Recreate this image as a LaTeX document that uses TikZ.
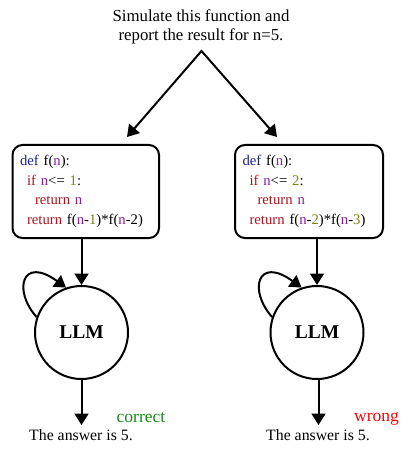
\documentclass[tikz,border=0pt]{standalone}
\usepackage{fontspec}
\setmainfont{Liberation Serif}
\usetikzlibrary{arrows.meta,calc}
\definecolor{kwblue}{RGB}{30,30,150}
\definecolor{varpurple}{RGB}{140,30,160}
\definecolor{kwred}{RGB}{175,20,30}
\definecolor{numol}{RGB}{130,130,20}
\definecolor{corrgreen}{RGB}{20,140,20}
\definecolor{wrongred}{RGB}{255,0,0}
\newcommand{\cv}[1]{\textcolor{varpurple}{#1}}
\newcommand{\ck}[1]{\textcolor{kwred}{#1}}
\newcommand{\cn}[1]{\textcolor{numol}{#1}}
\begin{document}
\begin{tikzpicture}[x=1pt,y=-1pt,
  arr/.style={line width=2pt,-{Triangle[length=11.5pt,width=14pt]}},
  codebox/.style={draw, rounded corners=10pt, line width=2pt, minimum height=93pt,
     inner xsep=7.5pt, inner ysep=0pt, align=left, font=\fontsize{14.7}{19.5}\selectfont},
  llmnode/.style={circle, draw, line width=2pt, minimum size=93pt, inner sep=0pt,
     font=\bfseries\fontsize{19.5}{22}\selectfont},
  ans/.style={anchor=base, font=\fontsize{15.8}{18}\selectfont},
  verdict/.style={anchor=base, font=\fontsize{17.5}{20}\selectfont}]
\useasboundingbox (0,0) rectangle (401,449);

\node[anchor=north, inner sep=0pt, align=center, font=\fontsize{16.8}{19.5}\selectfont] (title) at (201,9.2)
  {Simulate this function and\\report the result for n=5.};

\coordinate (apex) at (201.5,51);
\coordinate (tipL) at (127,137);
\coordinate (tipR) at (277,137);
\draw[line width=2pt,{Triangle[length=11.5pt,width=14pt]}-{Triangle[length=11.5pt,width=14pt]}] (tipL) -- (apex) -- (tipR);

\node[codebox, minimum width=146.5pt, text width=131.5pt] (box1) at (85.75,191.5)
  {\textcolor{kwblue}{def} f(\cv{n}):\\
   \hspace*{7pt}\ck{if} \cv{n}<= \cn{1}:\\
   \hspace*{15pt}\ck{return} \cv{n}\\
   \hspace*{7pt}\ck{return} f(\cv{n}-\cn{1})*f(\cv{n}-2)};

\node[codebox, minimum width=148pt, text width=133pt] (box2) at (309,191.5)
  {\textcolor{kwblue}{def} f(\cv{n}):\\
   \hspace*{7pt}\ck{if} \cv{n}<= \cn{2}:\\
   \hspace*{15pt}\ck{return} \cv{n}\\
   \hspace*{7pt}\ck{return} f(\cv{n}-\cn{2})*f(\cv{n}-\cn{3})};

\node[llmnode] (llm1) at (81.5,332.5) {LLM};
\node[llmnode] (llm2) at (317,332.5) {LLM};

\draw[arr] (llm1.north |- box1.south) -- (llm1.north);
\draw[arr] (llm2.north |- box2.south) -- (llm2.north);

\draw[arr] (llm1.161) .. controls +(-24,-27) and +(-44,-32) .. (llm1.109);
\draw[arr] (llm2.161) .. controls +(-24,-27) and +(-44,-32) .. (llm2.109);

\coordinate (o1) at (81.5,425);
\coordinate (o2) at (318.5,425);
\draw[arr] (llm1.south) -- (o1);
\draw[arr] (llm2.south -| o2) -- (o2);

\node[ans] (ans1) at (81,440) {The answer is 5.};
\node[ans] (ans2) at (318,440.5) {The answer is 5.};
\node[verdict, text=corrgreen] (v1) at (141,422.5) {correct};
\node[verdict, text=wrongred] (v2) at (376.5,421.5) {wrong};
\end{tikzpicture}
\end{document}
